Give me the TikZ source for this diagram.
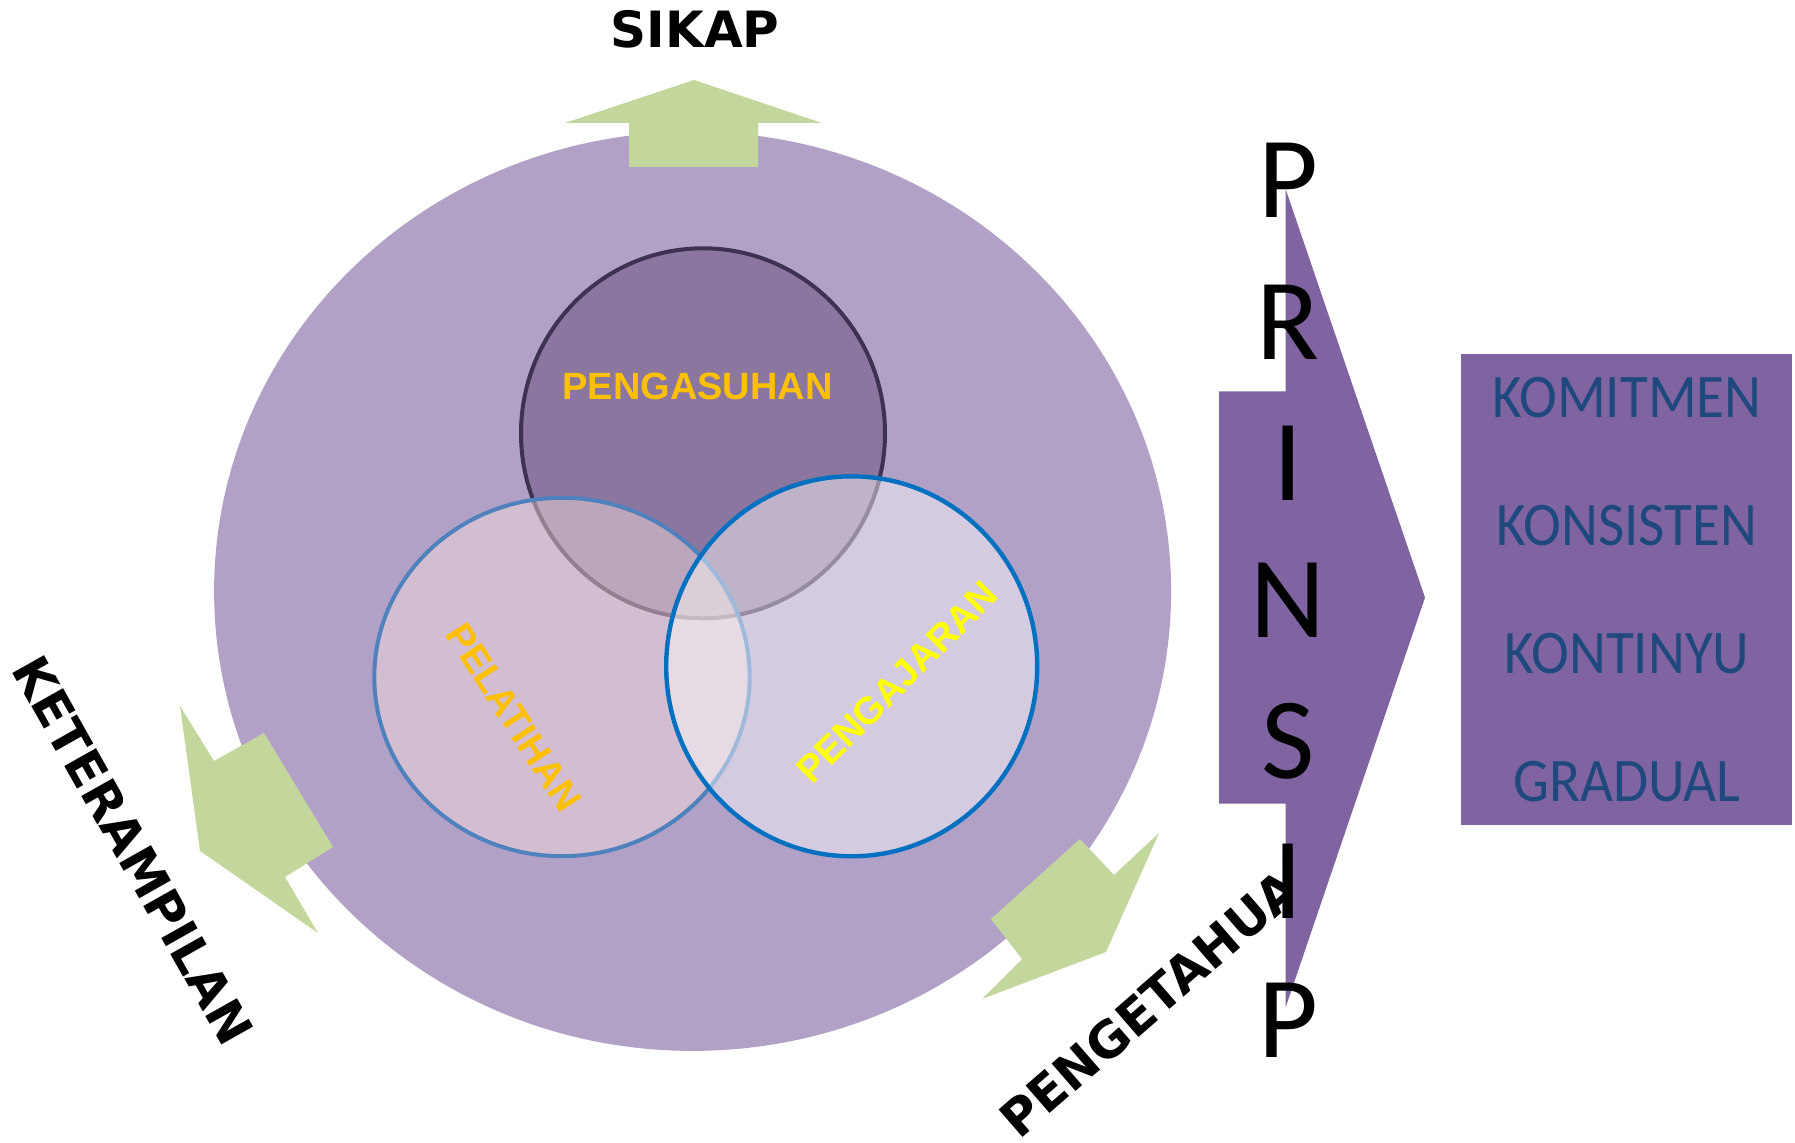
\documentclass[tikz,border=0pt]{standalone}
\usepackage{fontspec}
\setmainfont{DejaVu Sans}
\newfontfamily\headfont{DejaVu Sans}
\newfontfamily\venfont{Liberation Sans}
\newfontfamily\calfont{Carlito}
\newfontfamily\listfont[FakeStretch=0.92]{Carlito}

\definecolor{ringfill}{RGB}{178,161,199}
\definecolor{arrowgreen}{RGB}{195,214,155}
\definecolor{chevron}{RGB}{128,100,162}
\definecolor{careFill}{RGB}{138,118,158}
\definecolor{careLine}{RGB}{63,49,81}
\definecolor{trainFill}{RGB}{249,225,223}
\definecolor{trainLine}{RGB}{79,129,189}
\definecolor{teachLine}{RGB}{0,112,192}
\definecolor{labelOrange}{RGB}{255,192,0}
\definecolor{labelYellow}{RGB}{255,255,0}
\definecolor{listBlue}{RGB}{31,73,125}

\tikzset{
  greenarrow/.style={fill=arrowgreen, draw=none},
  headlabel/.style={inner sep=0pt, font=\headfont\bfseries\fontsize{25}{30}\selectfont, text=black},
  venlabel/.style={inner sep=0pt, font=\venfont\bfseries\fontsize{19}{23}\selectfont},
  prinsipletter/.style={inner sep=0pt, font=\calfont\fontsize{58}{62}\selectfont, text=black},
  listitem/.style={inner sep=0pt, font=\listfont\fontsize{31}{36}\selectfont, text=listBlue},
}

\begin{document}
\begin{tikzpicture}[x=0.5pt, y=-0.5pt]
  \useasboundingbox (0,0) rectangle (1795,1143);

  % outer ring
  \fill[ringfill] (692.6,591.3) ellipse [x radius=478.5, y radius=459.6];

  % green arrows leaving the ring
  \fill[greenarrow] (694,80) -- (822,123) -- (758,123) -- (758,167)
    -- (629,167) -- (629,123) -- (565,123) -- cycle;
  \fill[greenarrow] (180,706) -- (214,761) -- (264,733) -- (333,847)
    -- (285,877) -- (318,933) -- (200,851) -- cycle;
  \fill[greenarrow] (1080,839) -- (1114,875) -- (1159,833) -- (1106,952)
    -- (982,999) -- (1022,959) -- (991,919) -- cycle;

  % three overlapping circles
  \filldraw[fill=careFill, draw=careLine, line width=2pt]
    (703,433.3) ellipse [x radius=182, y radius=185];
  \filldraw[fill=trainFill, fill opacity=0.45, draw=trainLine, line width=2pt]
    (562,677) ellipse [x radius=187.7, y radius=179.2];
  \filldraw[fill=white, fill opacity=0.45, draw=teachLine, line width=2.2pt]
    (851.7,666.3) ellipse [x radius=185.5, y radius=190];

  \node[venlabel, text=labelOrange] (asuh) at (697.5,386.5) {PENGASUHAN};
  \node[venlabel, text=labelOrange, rotate=-57] (latih) at (514,717) {PELATIHAN};
  \node[venlabel, text=labelYellow, rotate=45] (ajar) at (897,682) {PENGAJARAN};

  % outcome labels
  \node[headlabel] (sikap) at (695,29) {SIKAP};
  \node[headlabel, rotate=-60.6] (terampil) at (133,850) {KETERAMPILAN};
  \node[headlabel, rotate=41] (tahu) at (1165,990) {PENGETAHUAN};

  % chevron
  \fill[chevron] (1219,391.5) -- (1285.6,391.5) -- (1285.6,189) -- (1425,597.6)
    -- (1285.6,1007.4) -- (1285.6,803.6) -- (1219,803.6) -- cycle;

  \foreach \ch/\yy [count=\i] in {P/180, R/322, I/463, N/600, S/741, I/881, P/1020}
    \node[prinsipletter] (pr\i) at (1288,\yy) {\ch};

  % list of principles
  \fill[chevron] (1461,354) rectangle (1792,825);
  \node[listitem] (komit) at (1627,398) {KOMITMEN};
  \node[listitem] (konsis) at (1627,526) {KONSISTEN};
  \node[listitem] (kontin) at (1627,654) {KONTINYU};
  \node[listitem] (grad) at (1627,782) {GRADUAL};
\end{tikzpicture}
\end{document}
